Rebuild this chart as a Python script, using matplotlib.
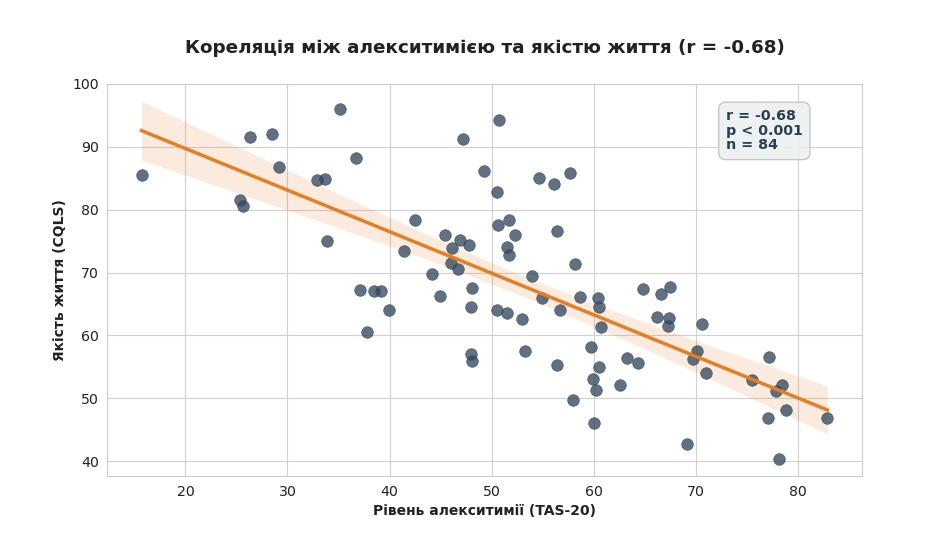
import matplotlib
matplotlib.use("Agg")
import matplotlib.pyplot as plt
import numpy as np

# alexithymia (TAS-20) vs quality of life (CQLS)
tas20 = [15.7, 26.3, 28.5, 29.2, 25.3, 25.6, 35.1, 32.9, 33.7, 36.7,
         33.9, 37.1, 37.8, 38.5, 39.2, 39.9, 42.5, 41.4, 45.4, 46.9,
         47.8, 46.1, 46.0, 46.7, 44.2, 44.9, 48.1, 48.0, 47.2, 50.7,
         49.3, 50.5, 54.6, 56.1, 57.7, 50.6, 51.7, 52.3, 51.5, 51.7,
         56.4, 58.2, 54.0, 54.9, 58.7, 60.4, 60.5, 60.7, 56.7, 50.5,
         51.5, 53.0, 48.0, 48.1, 53.3, 56.4, 59.7, 60.5, 59.9, 60.2,
         58.0, 60.0, 62.6, 63.3, 64.3, 64.8, 66.6, 67.5, 66.2, 67.4,
         67.3, 70.6, 70.1, 69.7, 71.0, 69.1, 77.2, 75.5, 77.9, 78.5,
         78.8, 77.1, 78.2, 82.9]
cqls = [85.5, 91.5, 92.0, 86.8, 81.6, 80.5, 96.0, 84.7, 84.8, 88.2,
        75.0, 67.2, 60.6, 67.0, 67.0, 64.0, 78.3, 73.5, 76.0, 75.2,
        74.4, 73.9, 71.5, 70.5, 69.7, 66.3, 67.6, 64.6, 91.2, 94.2,
        86.1, 82.8, 85.1, 84.1, 85.9, 77.5, 78.3, 76.0, 74.0, 72.8,
        76.6, 71.4, 69.5, 66.0, 66.1, 66.0, 64.6, 61.3, 64.0, 64.0,
        63.5, 62.6, 57.0, 56.0, 57.6, 55.3, 58.1, 55.0, 53.1, 51.3,
        49.7, 46.0, 52.1, 56.4, 55.6, 67.4, 66.6, 67.7, 63.0, 62.7,
        61.5, 61.8, 57.5, 56.2, 54.0, 42.7, 56.6, 52.9, 51.1, 52.1,
        48.1, 46.9, 40.4, 46.9]

x = np.array(tas20)
y = np.array(cqls)

# linear fit and confidence band
slope, intercept = np.polyfit(x, y, 1)
xs = np.linspace(x.min(), x.max(), 100)
ys = slope * xs + intercept
n = len(x)
resid = y - (slope * x + intercept)
s_err = np.sqrt(np.sum(resid**2) / (n - 2))
se = s_err * np.sqrt(1/n + (xs - x.mean())**2 / np.sum((x - x.mean())**2))
band = 1.65 * se

fig, ax = plt.subplots(figsize=(9.49, 5.34), dpi=100)
fig.subplots_adjust(left=0.113, right=0.908, top=0.843, bottom=0.108)

ax.fill_between(xs, ys - band, ys + band, color='#e67e22', alpha=0.15, linewidth=0, zorder=1)
ax.scatter(x, y, s=70, color='#34495e', alpha=0.78, edgecolors='#34495e', linewidths=0.5, zorder=3)
ax.plot(xs, ys, color='#e67e22', linewidth=2.5, zorder=4)

ax.set_ylim(37.6, 100)
ax.set_xlim(12.34, 86.26)
ax.set_xticks([20, 30, 40, 50, 60, 70, 80])
ax.set_yticks([40, 50, 60, 70, 80, 90, 100])
ax.grid(True, color='#d0d0d0', linewidth=0.8)
ax.set_axisbelow(True)
for sp in ax.spines.values():
    sp.set_color('#cccccc')
ax.tick_params(length=0, labelsize=10.2, colors='#222222', pad=6)

ax.set_title('Кореляція між алекситимією та якістю життя (r = -0.68)',
             fontsize=13.2, fontweight='bold', color='#222222', pad=22)
ax.set_xlabel('Рівень алекситимії (TAS-20)', fontsize=10, fontweight='bold', color='#222222')
ax.set_ylabel('Якість життя (CQLS)', fontsize=10, fontweight='bold', color='#222222')

ax.text(0.82, 0.935, 'r = -0.68\np < 0.001\nn = 84', transform=ax.transAxes,
        fontsize=10.3, fontweight='bold', color='#2c3e50', va='top', ha='left',
        linespacing=1.05,
        bbox=dict(boxstyle='round,pad=0.5', facecolor='#ecf0f1', edgecolor='#bdc3c7', alpha=0.9))

plt.savefig('out.png', dpi=100)
